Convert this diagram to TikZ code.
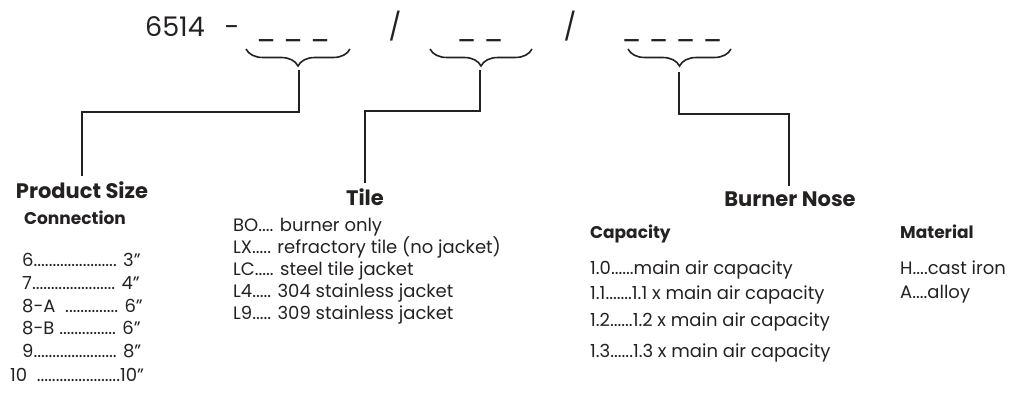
\documentclass[tikz,border=0pt]{standalone}
\usepackage{fontspec}
\setmainfont{Poppins}
\usetikzlibrary{positioning}
\usetikzlibrary{decorations.pathreplacing}
\definecolor{ink}{rgb}{0.14,0.13,0.13}
\def\sz#1{\fontsize{#1}{#1}\selectfont}
\tikzstyle{code} = [inner sep=0pt, anchor=base, text=ink, font=\sz{27}]
\tikzstyle{head} = [inner sep=0pt, anchor=base, text=ink, font=\bfseries\sz{21}]
\tikzstyle{sub} = [inner sep=0pt, anchor=base west, text=ink, font=\bfseries\sz{17}]
\tikzstyle{entry} = [inner sep=0pt, anchor=base west, text=ink, font=\sz{18}]
\tikzstyle{brace} = [ink, line width=1.6pt, decorate, decoration={brace, amplitude=17pt}]
\tikzstyle{conn} = [ink, line width=1.6pt]

\begin{document}
\begin{tikzpicture}[x=1pt,y=-1pt]
      \useasboundingbox (0,0) rectangle (1011,404);
      % part number
      \node[code] (num) at (175,37) {6514};
      \node[code] (dash) at (232,37) {-};
      \node[code] (f1) at (293,38) {\_ \_ \_};
      \node[code] (s1) at (395,37) {/};
      \node[code] (f2) at (480,38) {\_ \_};
      \node[code] (s2) at (570,37) {/};
      \node[code] (f3) at (672,38) {\_ \_ \_ \_};
      \draw[brace] (350,49) -- (246,49);
      \draw[brace] (532,49) -- (430,49);
      \draw[brace] (731,49) -- (628,49);
      \coordinate (t1) at (299,70);
      \coordinate (t2) at (480,70);
      \coordinate (t3) at (679,72);
      \coordinate (k1) at (82,112);
      \coordinate (k2) at (365,111);
      \coordinate (k3) at (789,114);
      % headings
      \node[head] (size) at (82,198) {Product Size};
      \node[sub, anchor=base] (conx) at (75,224) {Connection};
      \node[head] (tile) at (365,205) {Tile};
      \node[head] (nose) at (790,206) {Burner Nose};
      \node[sub] (cap) at (590,238) {Capacity};
      \node[sub] (mat) at (900,238) {Material};
      % connectors
      \draw[conn] (t1) |- (k1) -- ([yshift=5pt]k1 |- size.north);
      \draw[conn] (t2) |- (k2) -- ([yshift=5pt]k2 |- tile.north);
      \draw[conn] (t3) |- (k3) -- ([yshift=5pt]k3 |- nose.north);
      % product size
      \node[entry] (c1) at (22,266) {6...................... 3"};
      \node[entry] (c2) at (22,289) {7...................... 4"};
      \node[entry] (c3) at (22,312) {8-A\ \ .............. 6"};
      \node[entry] (c4) at (22,334) {8-B ............... 6"};
      \node[entry] (c5) at (22,357) {9...................... 8"};
      \node[entry] (c6) at (10,381) {10\ \ ......................10"};
      % tile
      \node[entry] (l1) at (233,231) {BO.... burner only};
      \node[entry] (l2) at (233,253) {LX..... refractory tile (no jacket)};
      \node[entry] (l3) at (233,275) {LC..... steel tile jacket};
      \node[entry] (l4) at (233,297) {L4..... 304 stainless jacket};
      \node[entry] (l5) at (233,319) {L9..... 309 stainless jacket};
      % burner nose
      \node[entry] (n1) at (590,274) {1.0......main air capacity};
      \node[entry] (n2) at (590,299) {1.1.......1.1 x main air capacity};
      \node[entry] (n3) at (590,326) {1.2......1.2 x main air capacity};
      \node[entry] (n4) at (590,357) {1.3......1.3 x main air capacity};
      \node[entry] (m1) at (900,274) {H....cast iron};
      \node[entry] (m2) at (900,298) {A....alloy};
\end{tikzpicture}
\end{document}
